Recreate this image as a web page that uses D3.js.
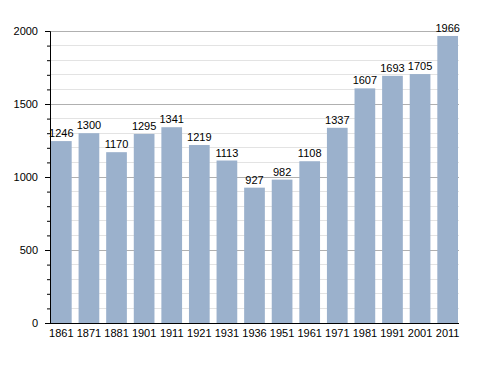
<!DOCTYPE html>
<html><head><meta charset="utf-8">
<script src="https://cdn.jsdelivr.net/npm/d3@7"></script>
<style>body{margin:0;background:#fff}svg{display:block}text{font-family:"Liberation Sans",Arial,sans-serif}</style>
</head><body>
<script>
const years = ["1861","1871","1881","1901","1911","1921","1931","1936","1951","1961","1971","1981","1991","2001","2011"];
const population = [1246,1300,1170,1295,1341,1219,1113,927,982,1108,1337,1607,1693,1705,1966];
const yTicks = [0,500,1000,1500,2000];

const W = 488, H = 373;
const svg = d3.select("body").append("svg").attr("width", W).attr("height", H);

const x = d3.scaleBand().domain(years).range([50, 459]).paddingInner(0.25).paddingOuter(0.036);
const y = d3.scaleLinear().domain([0, 2000]).range([323, 31]);

const minor = d3.range(0, 2001, 100).filter(v => v % 500 !== 0);

svg.append("g").selectAll("line").data(minor).join("line")
  .attr("x1", 50).attr("x2", 459).attr("y1", d => y(d)).attr("y2", d => y(d))
  .attr("stroke", "#e3e3e3").attr("stroke-width", 1).attr("shape-rendering", "crispEdges");
svg.append("g").selectAll("line").data(yTicks.filter(v => v > 0)).join("line")
  .attr("x1", 50).attr("x2", 459).attr("y1", d => y(d)).attr("y2", d => y(d))
  .attr("stroke", "#b0b0b0").attr("stroke-width", 1).attr("shape-rendering", "crispEdges");

svg.append("g").selectAll("rect").data(population).join("rect")
  .attr("x", (d, i) => x(years[i])).attr("width", x.bandwidth())
  .attr("y", d => y(d)).attr("height", d => y(0) - y(d))
  .attr("fill", "#9bb1cc");

svg.append("g").selectAll("text").data(population).join("text")
  .attr("x", (d, i) => x(years[i]) + x.bandwidth() / 2)
  .attr("y", d => y(d) - 4)
  .attr("text-anchor", "middle").attr("font-size", 11).attr("fill", "#000")
  .text(d => d);

const yAxis = d3.axisLeft(y).tickValues(yTicks).tickFormat(d3.format("d")).tickSize(5).tickPadding(7);
const gy = svg.append("g").attr("transform", "translate(50,0)").call(yAxis);
gy.select(".domain").attr("stroke", "#000");
gy.selectAll(".tick line").attr("stroke", "#000");
gy.selectAll("text").attr("font-size", 11).attr("fill", "#000").attr("font-family", "Liberation Sans, Arial, sans-serif");
const yMinor = d3.axisLeft(y).tickValues(minor).tickSize(3).tickFormat("");
const gym = svg.append("g").attr("transform", "translate(50,0)").call(yMinor);
gym.select(".domain").remove();
gym.selectAll(".tick line").attr("stroke", "#000");

const xAxis = d3.axisBottom(x).tickSize(0).tickPadding(6);
const gx = svg.append("g").attr("transform", "translate(0,323)").call(xAxis);
gx.select(".domain").attr("stroke", "#000").attr("d", "M50,0.5H459");
gx.selectAll("text").attr("font-size", 11).attr("fill", "#000").attr("font-family", "Liberation Sans, Arial, sans-serif");
</script>
</body></html>
